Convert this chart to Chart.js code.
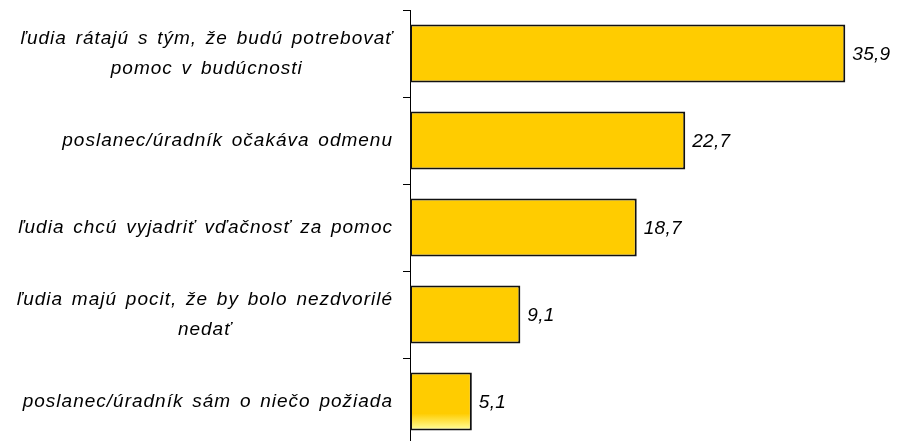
<!DOCTYPE html>
<html>
<head>
<meta charset="utf-8">
<script src="https://cdn.jsdelivr.net/npm/chart.js@4.4.0/dist/chart.umd.min.js"></script>
<style>
  html, body { margin: 0; padding: 0; background: #fff; overflow: hidden; }
  #wrap { position: relative; width: 897px; height: 445px; }
</style>
</head>
<body>
<div id="wrap"><canvas id="myChart"></canvas></div>
<script>
const categories = [
  ['ľudia rátajú s tým, že budú potrebovať', 'pomoc v budúcnosti'],
  ['poslanec/úradník očakáva odmenu'],
  ['ľudia chcú vyjadriť vďačnosť za pomoc'],
  ['ľudia majú pocit, že by bolo nezdvorilé', 'nedať'],
  ['poslanec/úradník sám o niečo požiada']
];
const values = [35.9, 22.7, 18.7, 9.1, 5.1];

const labelFont = 'italic 19px "Liberation Sans", Arial, sans-serif';

// category labels: block right aligned, lines centered inside the block
const catLabels = {
  id: 'catLabels',
  afterDraw(chart) {
    const ctx = chart.ctx;
    const y = chart.scales.y;
    ctx.save();
    ctx.font = labelFont;
    ctx.letterSpacing = '1px';
    ctx.wordSpacing = '2.5px';
    ctx.fillStyle = '#000';
    ctx.textBaseline = 'middle';
    ctx.textAlign = 'center';
    const right = 393;
    const lineH = 30;
    categories.forEach((lines, i) => {
      const cy = y.getPixelForValue(i);
      let widest = 0;
      lines.forEach(l => { widest = Math.max(widest, ctx.measureText(l).width); });
      const cx = right - widest / 2;
      const top = cy - (lines.length - 1) * lineH / 2;
      lines.forEach((l, k) => ctx.fillText(l, cx, top + k * lineH));
    });
    ctx.restore();
  }
};

// value labels at bar ends
const valueLabels = {
  id: 'valueLabels',
  afterDatasetsDraw(chart) {
    const ctx = chart.ctx;
    const meta = chart.getDatasetMeta(0);
    ctx.save();
    ctx.font = labelFont;
    ctx.letterSpacing = '0.3px';
    ctx.fillStyle = '#000';
    ctx.textBaseline = 'middle';
    ctx.textAlign = 'left';
    meta.data.forEach((bar, i) => {
      ctx.fillText(values[i].toFixed(1).replace('.', ','), bar.x + 7, bar.y + 1);
    });
    ctx.restore();
  }
};

const ctx = document.getElementById('myChart');
new Chart(ctx, {
  type: 'bar',
  data: {
    labels: categories,
    datasets: [{
      data: values,
      backgroundColor: function (c) {
        const chart = c.chart;
        if (c.dataIndex !== values.length - 1 || !chart.scales || !chart.scales.y) return '#FFCC00';
        const cy = chart.scales.y.getPixelForValue(c.dataIndex);
        const g = chart.ctx.createLinearGradient(0, cy + 12, 0, cy + 28);
        g.addColorStop(0, '#FFCC00');
        g.addColorStop(1, '#FFFF99');
        return g;
      },
      borderColor: '#111',
      borderWidth: 2,
      borderSkipped: false,
      barPercentage: 0.667,
      categoryPercentage: 1
    }]
  },
  options: {
    indexAxis: 'y',
    responsive: true,
    maintainAspectRatio: false,
    animation: false,
    layout: { padding: { top: 10, right: 2, left: 0, bottom: 0 } },
    plugins: {
      legend: { display: false },
      tooltip: { enabled: false }
    },
    scales: {
      x: {
        display: false,
        min: 0,
        max: 40
      },
      y: {
        afterFit(scale) { scale.width = 410; },
        ticks: { display: false },
        grid: {
          offset: true,
          drawOnChartArea: false,
          drawTicks: true,
          tickLength: 7,
          color: '#000',
          lineWidth: 1
        },
        border: { display: true, color: '#000', width: 1 }
      }
    }
  },
  plugins: [catLabels, valueLabels]
});
</script>
</body>
</html>
